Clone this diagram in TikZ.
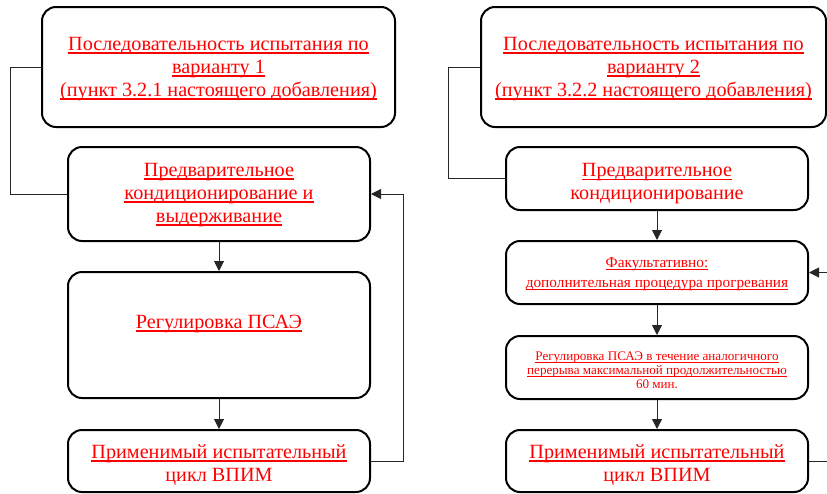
\documentclass[tikz,border=0pt]{standalone}
\usepackage{fontspec}
\newfontfamily\tnr{Liberation Serif}
\usetikzlibrary{arrows.meta}
\newcommand\uln[1]{\leavevmode\setbox0=\hbox{#1}\rlap{\rule[-0.17em]{\wd0}{0.085em}}\box0}
\tikzset{
  box/.style={draw, line width=2pt, rounded corners=14pt, inner sep=0pt},
  lbl/.style={align=center, text=red, inner sep=0pt},
  big/.style={font=\tnr\fontsize{20.2}{23}\selectfont},
  small/.style={font=\tnr\fontsize{15.3}{20}\selectfont},
  tiny/.style={font=\tnr\fontsize{13.1}{14}\selectfont},
  conn/.style={line width=1pt, draw=black!85},
  arr/.style={conn, -{Triangle[length=10pt,width=10pt]}}
}
\begin{document}
\begin{tikzpicture}[x=1pt,y=-1pt]
\useasboundingbox (0,0) rectangle (827,493);
% boxes
\node[box, minimum width=353pt, minimum height=120pt] (A1) at (218.5,67) {};
\node[box, minimum width=302pt, minimum height=94pt] (A2) at (219,194) {};
\node[box, minimum width=302pt, minimum height=126pt] (A3) at (219,335) {};
\node[box, minimum width=302pt, minimum height=62pt] (A4) at (219,461) {};
\node[box, minimum width=345pt, minimum height=120pt] (B1) at (653.5,67) {};
\node[box, minimum width=302pt, minimum height=63pt] (B2) at (657,178.5) {};
\node[box, minimum width=302pt, minimum height=63pt] (B3) at (657,272.5) {};
\node[box, minimum width=302pt, minimum height=63pt] (B4) at (657,367.5) {};
\node[box, minimum width=302pt, minimum height=62pt] (B5) at (657,461) {};
% texts
\node[lbl, big] (A1t) at (218.5,69)
  {\uln{Последовательность испытания по}\\ \uln{варианту 1}\\ \uln{(пункт 3.2.1 настоящего добавления)}};
\node[lbl, big] (A2t) at (219,195)
  {\uln{Предварительное}\\ \uln{кондиционирование и}\\ \uln{выдерживание}};
\node[lbl, big] (A3t) at (219,324) {\uln{Регулировка ПСАЭ}};
\node[lbl, big] (A4t) at (219,465)
  {\uln{Применимый испытательный}\\ цикл ВПИМ};
\node[lbl, big] (B1t) at (653.5,69)
  {\uln{Последовательность испытания по}\\ \uln{варианту 2}\\ \uln{(пункт 3.2.2 настоящего добавления)}};
\node[lbl, big] (B2t) at (657,184)
  {\uln{Предварительное}\\ кондиционирование};
\node[lbl, small] (B3t) at (657,274.5)
  {\uln{Факультативно:}\\ \uln{дополнительная процедура прогревания}};
\node[lbl, tiny] (B4t) at (657,370.5)
  {\uln{Регулировка ПСАЭ в течение аналогичного}\\ \uln{перерыва максимальной продолжительностью}\\ 60 мин.};
\node[lbl, big] (B5t) at (657,465)
  {\uln{Применимый испытательный}\\ цикл ВПИМ};
\coordinate (r3) at (827,272.5);
\coordinate (r5) at (827,461);
% connectors
\draw[conn] (A1.west) -- ++(-31,0) |- (A2.west);
\draw[arr] (A2) -- (A3);
\draw[arr] (A3) -- (A4);
\draw[arr] (A4.east) -- ++(32,0) |- (A2.east);
\draw[conn] (B1.west) -- ++(-32,0) |- (B2.west);
\draw[arr] (B2) -- (B3);
\draw[arr] (B3) -- (B4);
\draw[arr] (B4) -- (B5);
\draw[arr] (r3) -- (B3.east);
\draw[conn] (B5.east) -- (r5);
\end{tikzpicture}
\end{document}
